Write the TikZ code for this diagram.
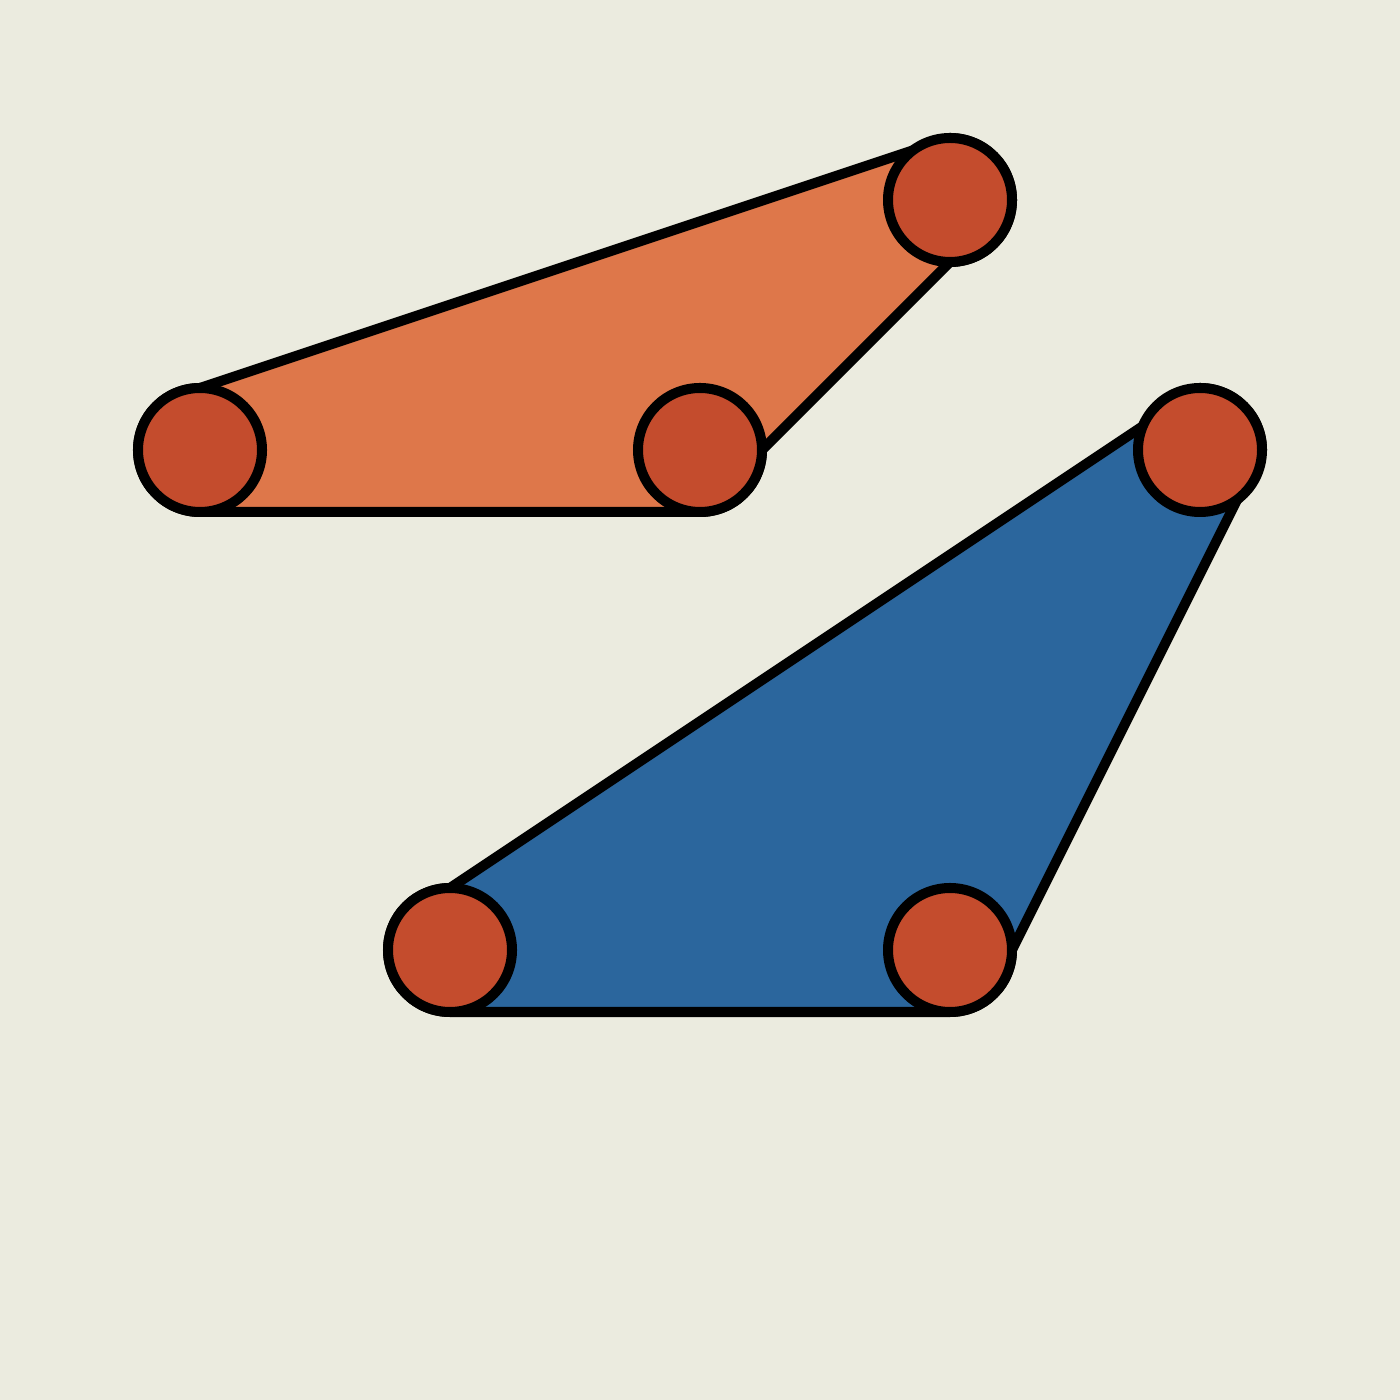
\documentclass[tikz,border=0pt]{standalone}
\usepackage{tikz}
\usetikzlibrary{calc}
\definecolor{paper}{RGB}{235,235,223}
\definecolor{hullorange}{RGB}{222,119,74}
\definecolor{hullblue}{RGB}{43,102,157}
\definecolor{jointred}{RGB}{196,76,45}
\tikzset{
    hull/.style={draw=black, line width=2.85pt, line join=round},
    joint/.style={circle, draw=black, fill=jointred, line width=2.85pt,
        minimum size=1.24cm, inner sep=0pt, outer sep=0pt},
}

\begin{document}
\begin{tikzpicture}
\fill[paper] (0,0) rectangle (14,14);
\useasboundingbox (0,0) rectangle (14,14);
\coordinate (o1) at (2,9.5);
\coordinate (o2) at (7,9.5);
\coordinate (o3) at (9.5,12);
\coordinate (b1) at (4.5,4.5);
\coordinate (b2) at (9.5,4.5);
\coordinate (b3) at (12,9.5);
\draw[hull, fill=hullorange] ($(o1)+(0,0.62)$) -- ($(o3)+(0,0.62)$)
    arc[start angle=90, end angle=-90, radius=0.62] -- ($(o2)+(0.62,0)$)
    arc[start angle=0, end angle=-90, radius=0.62] -- ($(o1)+(0,-0.62)$)
    arc[start angle=270, end angle=90, radius=0.62] -- cycle;
\draw[hull, fill=hullblue] ($(b1)+(0,0.62)$) -- ($(b3)+(0,0.62)$)
    arc[start angle=90, end angle=0, radius=0.62] -- ($(b2)+(0.62,0)$)
    arc[start angle=0, end angle=-90, radius=0.62] -- ($(b1)+(0,-0.62)$)
    arc[start angle=270, end angle=90, radius=0.62] -- cycle;
\foreach \p in {o1,o2,o3,b1,b2,b3}
    \node[joint] (j\p) at (\p) {};
\end{tikzpicture}
\end{document}
